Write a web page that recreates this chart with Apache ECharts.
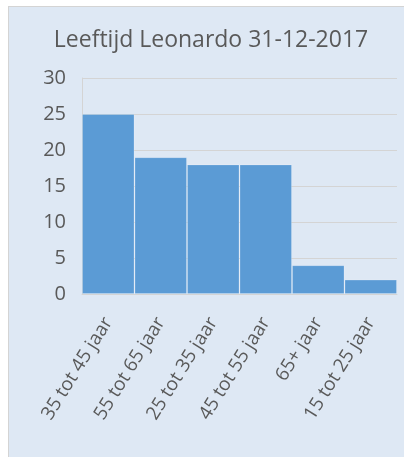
<!DOCTYPE html>
<html>
<head>
<meta charset="utf-8">
<script src="https://cdn.jsdelivr.net/npm/echarts@6/dist/echarts.min.js"></script>
<style>
    html, body { margin: 0; padding: 0; background: #ffffff; }
    #bar {
        position: absolute; left: 8px; top: 6px; width: 396px; height: 451px;
        box-sizing: border-box; border-left: 1px solid #d4d4d4; border-top: 1px solid #d4d4d4;
        background: #dee8f4;
    }
</style>
</head>
<body>
<div id="bar"></div>
<script>
var titleText = 'Leeftijd Leonardo 31-12-2017';
var categories = ['35 tot 45 jaar', '55 tot 65 jaar', '25 tot 35 jaar', '45 tot 55 jaar', '65+ jaar', '15 tot 25 jaar'];
var values = [25, 19, 18, 18, 4, 2];
var yTicks = [0, 5, 10, 15, 20, 25, 30];

var chart = echarts.init(document.getElementById('bar'));
var font = '"Open Sans", sans-serif';
var option = {
    animation: false,
    title: {
        text: titleText,
        left: 197,
        textAlign: 'center',
        top: 17,
        textStyle: { color: '#595959', fontSize: 23, fontWeight: 'normal', fontFamily: font }
    },
    grid: { left: 73, right: 7, top: 71, bottom: 163 },
    xAxis: {
        type: 'category',
        data: categories,
        axisTick: { show: false },
        axisLine: { lineStyle: { color: '#d4d4d4' } },
        axisLabel: {
            rotate: 58,
            margin: 25,
            interval: 0,
            color: '#595959',
            fontSize: 19,
            fontFamily: font
        }
    },
    yAxis: {
        type: 'value',
        min: yTicks[0],
        max: yTicks[yTicks.length - 1],
        interval: 5,
        axisTick: { show: false },
        axisLine: { show: true, lineStyle: { color: '#d4d4d4' } },
        splitLine: { lineStyle: { color: '#d4d4d4' } },
        axisLabel: { margin: 16, color: '#595959', fontSize: 20, fontFamily: font }
    },
    series: [{
        type: 'bar',
        data: values,
        barCategoryGap: 0,
        itemStyle: {
            color: '#5b9bd5',
            borderColor: 'rgba(255,255,255,0.2)',
            borderWidth: 1
        }
    }]
};
chart.setOption(option);
window.addEventListener('resize', function () { chart.resize(); });
</script>
</body>
</html>
